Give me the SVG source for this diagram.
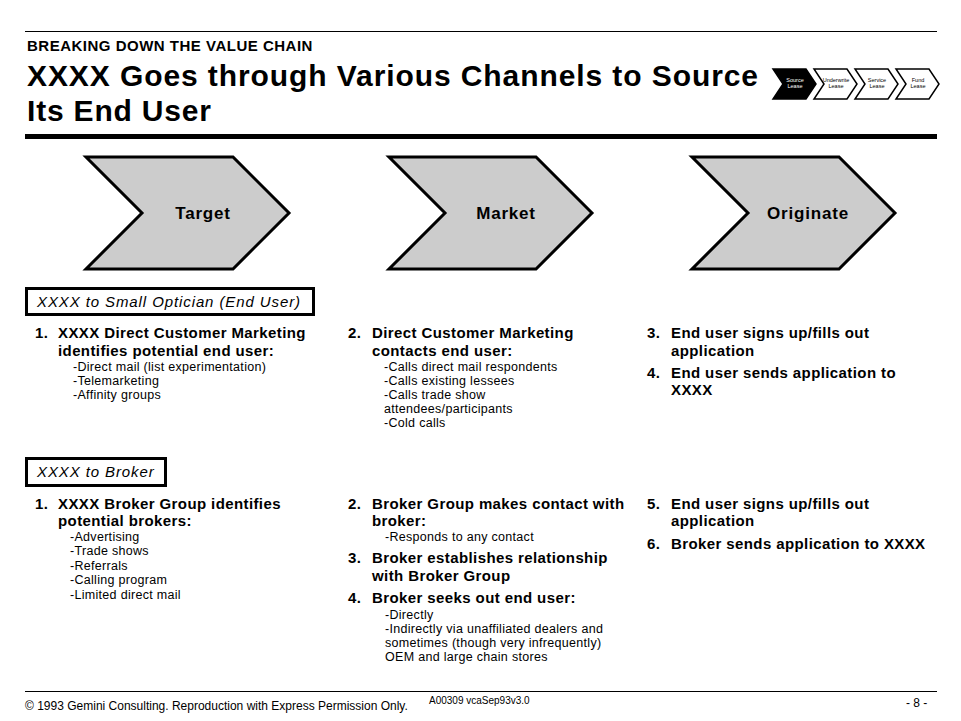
<svg xmlns="http://www.w3.org/2000/svg" width="961" height="721" viewBox="0 0 961 721">
<style>
text{font-family:"Liberation Sans",Arial,sans-serif;fill:#000}
.sec{font-size:15px;font-weight:bold;letter-spacing:0.5px}
.ttl{font-size:30px;font-weight:bold}
.chev{fill:#CCCCCC;stroke:#000;stroke-width:3;stroke-linejoin:miter}
.chl{font-size:17px;font-weight:bold;letter-spacing:0.8px;text-anchor:middle}
.mini{fill:#fff;stroke:#000;stroke-width:1.5}
.mt{font-size:5.5px;text-anchor:middle}
.box{fill:#fff;stroke:#000;stroke-width:3}
.bl{font-size:15px;font-style:italic;letter-spacing:0.9px}
.b{font-size:15px;font-weight:bold;letter-spacing:0.4px}
.s{font-size:12.5px;letter-spacing:0.3px}
.ft{font-size:12px}
.ft2{font-size:10px}
</style>
<g id="header">
<line x1="25" y1="31.5" x2="937" y2="31.5" stroke="#000" stroke-width="1"/>
<text class="sec" x="27" y="50.5">BREAKING DOWN THE VALUE CHAIN</text>
<text class="ttl" x="27" y="86" textLength="731" lengthAdjust="spacing">XXXX Goes through Various Channels to Source</text>
<text class="ttl" x="27" y="121" textLength="184" lengthAdjust="spacing">Its End User</text>
<rect x="25" y="134" width="912" height="5" fill="#000"/>
</g>
<g id="mini-chain">
<polygon points="773,69 806,69 816,84 806,99 773,99 783,84" fill="#000" stroke="#000" stroke-width="1.5"/>
<text class="mt" x="795" y="81.5" style="fill:#fff">Source</text>
<text class="mt" x="795" y="88" style="fill:#fff">Lease</text>
<polygon class="mini" points="814,69 847,69 857,84 847,99 814,99 824,84"/>
<text class="mt" x="836" y="81.5">Underwrite</text>
<text class="mt" x="836" y="88">Lease</text>
<polygon class="mini" points="855,69 888,69 898,84 888,99 855,99 865,84"/>
<text class="mt" x="877" y="81.5">Service</text>
<text class="mt" x="877" y="88">Lease</text>
<polygon class="mini" points="896,69 929,69 939,84 929,99 896,99 906,84"/>
<text class="mt" x="918" y="81.5">Fund</text>
<text class="mt" x="918" y="88">Lease</text>
</g>
<g id="target">
<polygon class="chev" points="86,157 233,157 289,213 233,269 86,269 142,213"/>
<text class="chl" x="203" y="218.5">Target</text>
</g>
<g id="market">
<polygon class="chev" points="389,157 536,157 592,213 536,269 389,269 445,213"/>
<text class="chl" x="506" y="218.5">Market</text>
</g>
<g id="originate">
<polygon class="chev" points="692,157 839,157 895,213 839,269 692,269 748,213"/>
<text class="chl" x="808" y="218.5">Originate</text>
</g>
<g id="connectors"/>
<g id="label-optician">
<rect class="box" x="26.5" y="288.5" width="287" height="26"/>
<text class="bl" x="37" y="306.5">XXXX to Small Optician (End User)</text>
</g>
<g id="optician-target">
<text class="b" x="35" y="338">1.</text>
<text class="b" x="58" y="338">XXXX Direct Customer Marketing</text>
<text class="b" x="58" y="355.5">identifies potential end user:</text>
<text class="s" x="73" y="370.5">-Direct mail (list experimentation)</text>
<text class="s" x="73" y="384.5">-Telemarketing</text>
<text class="s" x="73" y="398.5">-Affinity groups</text>
</g>
<g id="optician-market">
<text class="b" x="348" y="338">2.</text>
<text class="b" x="372" y="338">Direct Customer Marketing</text>
<text class="b" x="372" y="355.5">contacts end user:</text>
<text class="s" x="384" y="370.5">-Calls direct mail respondents</text>
<text class="s" x="384" y="384.5">-Calls existing lessees</text>
<text class="s" x="384" y="398.5">-Calls trade show</text>
<text class="s" x="384" y="412.5">attendees/participants</text>
<text class="s" x="384" y="426.5">-Cold calls</text>
</g>
<g id="optician-originate">
<text class="b" x="647" y="338">3.</text>
<text class="b" x="671" y="338">End user signs up/fills out</text>
<text class="b" x="671" y="355.5">application</text>
<text class="b" x="647" y="377.5">4.</text>
<text class="b" x="671" y="377.5">End user sends application to</text>
<text class="b" x="671" y="395">XXXX</text>
</g>
<g id="label-broker">
<rect class="box" x="26.5" y="458.5" width="139" height="27"/>
<text class="bl" x="37" y="476.5">XXXX to Broker</text>
</g>
<g id="broker-target">
<text class="b" x="35" y="508.5">1.</text>
<text class="b" x="58" y="508.5">XXXX Broker Group identifies</text>
<text class="b" x="58" y="526">potential brokers:</text>
<text class="s" x="70" y="541">-Advertising</text>
<text class="s" x="70" y="555">-Trade shows</text>
<text class="s" x="70" y="569.5">-Referrals</text>
<text class="s" x="70" y="584">-Calling program</text>
<text class="s" x="70" y="598.5">-Limited direct mail</text>
</g>
<g id="broker-market">
<text class="b" x="348" y="508.5">2.</text>
<text class="b" x="372" y="508.5">Broker Group makes contact with</text>
<text class="b" x="372" y="526">broker:</text>
<text class="s" x="385" y="540.5">-Responds to any contact</text>
<text class="b" x="348" y="563">3.</text>
<text class="b" x="372" y="563">Broker establishes relationship</text>
<text class="b" x="372" y="580.5">with Broker Group</text>
<text class="b" x="348" y="602.5">4.</text>
<text class="b" x="372" y="602.5">Broker seeks out end user:</text>
<text class="s" x="385" y="618.5">-Directly</text>
<text class="s" x="385" y="632.5">-Indirectly via unaffiliated dealers and</text>
<text class="s" x="385" y="646.5">sometimes (though very infrequently)</text>
<text class="s" x="385" y="661">OEM and large chain stores</text>
</g>
<g id="broker-originate">
<text class="b" x="647" y="508.5">5.</text>
<text class="b" x="671" y="508.5">End user signs up/fills out</text>
<text class="b" x="671" y="526">application</text>
<text class="b" x="647" y="548.5">6.</text>
<text class="b" x="671" y="548.5">Broker sends application to XXXX</text>
</g>
<g id="footer">
<line x1="25" y1="691.5" x2="937" y2="691.5" stroke="#000" stroke-width="1"/>
<text class="ft" x="25" y="710">© 1993 Gemini Consulting. Reproduction with Express Permission Only.</text>
<text class="ft2" x="429" y="704">A00309 vcaSep93v3.0</text>
<text class="ft" x="906" y="707">- 8 -</text>
</g>
</svg>
